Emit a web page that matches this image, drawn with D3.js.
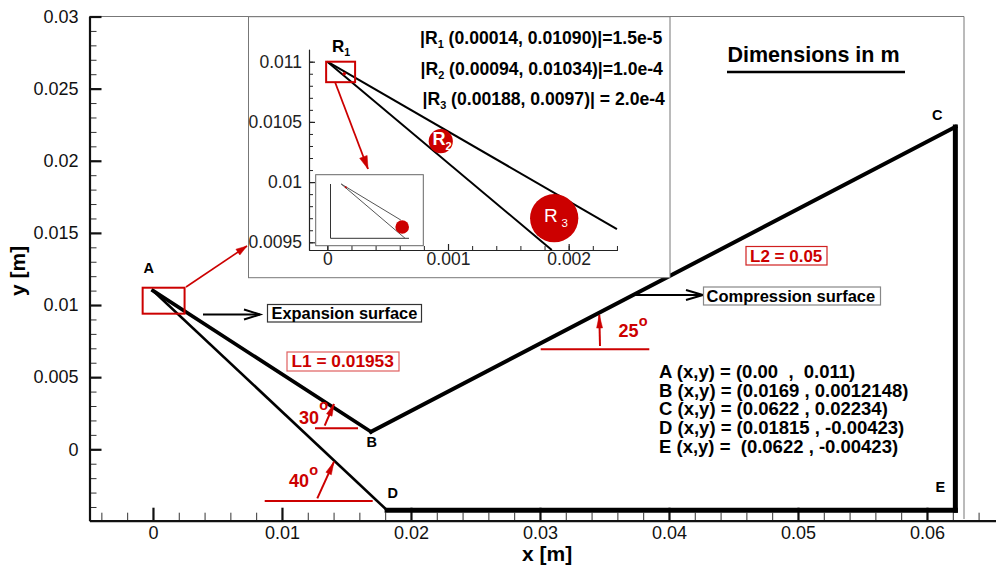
<!DOCTYPE html>
<html lang="en">
<head>
<meta charset="UTF-8" />
<title>Expansion and compression surfaces</title>
<style>
  html, body { margin: 0; padding: 0; background: #fff; }
  svg { display: block; }
  text { font-family: "Liberation Sans", Arial, sans-serif; white-space: pre; }
  .b { font-weight: bold; }
</style>
</head>
<body>
<svg width="996" height="567"></svg>
<script src="https://d3js.org/d3.v7.min.js"></script>
<script>
// corner points of the geometry
var pointNames = ["A", "B", "C", "D", "E"];
var pointX = [0, 0.0169, 0.0622, 0.01815, 0.0622];
var pointY = [0.011, 0.0012148, 0.02234, -0.00423, -0.00423];
var segFrom = ["A", "A", "B", "C", "E"];
var segTo = ["D", "B", "C", "E", "D"];

// main axes
var xTicks = [0, 0.01, 0.02, 0.03, 0.04, 0.05, 0.06];
var yTicks = [0, 0.005, 0.01, 0.015, 0.02, 0.025, 0.03];
var xMinor = d3.range(-4, 65, 2).map(function(d) { return d / 1000; });
var yMinor = d3.range(-4, 31, 1).map(function(d) { return d / 1000; });

// zoomed view
var insetXTicks = [0, 0.001, 0.002];
var insetYTicks = [0.0095, 0.01, 0.0105, 0.011];
var insetXMinor = d3.range(0, 25, 2).map(function(d) { return d / 10000; });
var insetYMinor = d3.range(95, 111, 1).map(function(d) { return d / 10000; });
var upperEdgeX = [0, 0.0024];
var upperEdgeY = [0.011, 0.00961];
var lowerEdgeX = [0, 0.00186];
var lowerEdgeY = [0.011, 0.009436];
var probeX = [0.00014, 0.00094, 0.00188];
var probeY = [0.0109, 0.01034, 0.0097];
var probeR = [1.5e-5, 1.0e-4, 2.0e-4];
var probeNotes = [
  " (0.00014, 0.01090)|=1.5e-5",
  " (0.00094, 0.01034)|=1.0e-4",
  " (0.00188, 0.0097)| = 2.0e-4"
];
var coordNotes = [
  "A (x,y) = (0.00  ,  0.011)",
  "B (x,y) = (0.0169 , 0.0012148)",
  "C (x,y) = (0.0622 , 0.02234)",
  "D (x,y) = (0.01815 , -0.00423)",
  "E (x,y) =  (0.0622 , -0.00423)"
];

var RED = "#cc0000";
var svg = d3.select("svg");

var x = d3.scaleLinear().domain([-0.00492, 0.06535]).range([89.5, 996]);
var y = d3.scaleLinear().domain([-0.00495, 0.03]).range([520.7, 16.5]);
var ix = d3.scaleLinear().domain([-0.000152, 0.002403]).range([309, 617.3]);
var iy = d3.scaleLinear().domain([0.009436, 0.011103]).range([250, 49.3]);
var nx = d3.scaleLinear().domain([-0.00033, 0.00209]).range([330.5, 409]);
var ny = d3.scaleLinear().domain([0.00936, 0.011]).range([238.3, 184]);

function drawAxis(axis, tx, ty, size, color, width, minorColor) {
  var g = svg.append("g").attr("transform", "translate(" + tx + "," + ty + ")").call(axis);
  g.attr("font-family", null).attr("font-size", size);
  g.selectAll("text").attr("fill", color);
  g.selectAll("line").attr("stroke", minorColor || color).attr("stroke-width", width);
  g.select(".domain").attr("stroke", color).attr("stroke-width", width);
  return g;
}

function arrow(x1, y1, x2, y2, color, width, open, len, half) {
  var a = Math.atan2(y2 - y1, x2 - x1);
  svg.append("line").attr("x1", x1).attr("y1", y1).attr("x2", x2).attr("y2", y2)
    .attr("stroke", color).attr("stroke-width", width);
  var p = [
    [x2 - len * Math.cos(a) + half * Math.sin(a), y2 - len * Math.sin(a) - half * Math.cos(a)],
    [x2, y2],
    [x2 - len * Math.cos(a) - half * Math.sin(a), y2 - len * Math.sin(a) + half * Math.cos(a)]
  ];
  svg.append("path").attr("d", d3.line()(p) + (open ? "" : "Z"))
    .attr("fill", open ? "none" : color)
    .attr("stroke", color).attr("stroke-width", open ? width : 0.5);
}

function label(tx, ty, str, size, color, bold) {
  return svg.append("text").attr("x", tx).attr("y", ty).attr("font-size", size)
    .attr("fill", color || "#000").attr("class", bold === false ? null : "b").text(str);
}

function boxed(bx, by, bw, bh, stroke, str, tx, ty, size, color) {
  svg.append("rect").attr("x", bx).attr("y", by).attr("width", bw).attr("height", bh)
    .attr("fill", "#fff").attr("stroke", stroke).attr("stroke-width", 1.2);
  label(tx, ty, str, size, color);
}

// frame around the plot
svg.append("path").attr("d", "M89.5,16.5H964V519").attr("fill", "none")
  .attr("stroke", "#777").attr("stroke-width", 1);

// minor ticks first, majors on top
drawAxis(d3.axisBottom(x).tickValues(xMinor).tickSize(-8).tickSizeOuter(0).tickFormat(""),
  0, 520.7, 18, "#000", 1, "#333");
drawAxis(d3.axisLeft(y).tickValues(yMinor).tickSize(-7).tickSizeOuter(0).tickFormat(""),
  89.5, 0, 18, "#000", 1, "#333");
drawAxis(d3.axisBottom(x).tickValues(xTicks).tickSize(-13).tickSizeOuter(0).tickPadding(5.5).tickFormat(d3.format("")),
  0, 520.7, 18, "#111", 2.2);
drawAxis(d3.axisLeft(y).tickValues(yTicks).tickSize(-12).tickSizeOuter(0).tickPadding(11).tickFormat(d3.format("")),
  89.5, 0, 18, "#111", 2.2);

// geometry
var segWidths = [2.6, 3.6, 4, 5, 5];
segFrom.forEach(function(from, i) {
  var a = pointNames.indexOf(from), b = pointNames.indexOf(segTo[i]);
  svg.append("line")
    .attr("x1", x(pointX[a])).attr("y1", y(pointY[a]))
    .attr("x2", x(pointX[b])).attr("y2", y(pointY[b]))
    .attr("stroke", "#000").attr("stroke-width", segWidths[i]).attr("stroke-linecap", "square");
});

// axis titles
label(522, 561, "x [m]", 21);
svg.append("text").attr("transform", "translate(25,296) rotate(-90)")
  .attr("font-size", 21).attr("class", "b").text("y [m]");

// point names
label(143.5, 273, "A", 14.5);
label(366.5, 447, "B", 14.5);
label(932, 120, "C", 14.5);
label(387.5, 498, "D", 14.5);
label(935.5, 492, "E", 14.5);

// red box round A, pointing at the zoomed view
svg.append("rect").attr("x", x(-0.0008)).attr("y", y(0.0112))
  .attr("width", x(0.00245) - x(-0.0008)).attr("height", y(0.0094) - y(0.0112))
  .attr("fill", "none").attr("stroke", RED).attr("stroke-width", 2);
arrow(186, 287, 247, 246, RED, 1.6, false, 11, 3.5);

// zoomed view
svg.append("rect").attr("x", 248.5).attr("y", 16.7).attr("width", 421.5).attr("height", 261)
  .attr("fill", "#fff").attr("stroke", "#777").attr("stroke-width", 1);

drawAxis(d3.axisBottom(ix).tickValues(insetXMinor).tickSize(-4).tickSizeOuter(0).tickFormat(""),
  0, 250, 17.5, "#222", 1);
drawAxis(d3.axisLeft(iy).tickValues(insetYMinor).tickSize(-4).tickSizeOuter(0).tickFormat(""),
  309, 0, 17.5, "#222", 1);
drawAxis(d3.axisBottom(ix).tickValues(insetXTicks).tickSize(-6).tickSizeOuter(0).tickPadding(3).tickFormat(d3.format("")),
  0, 250, 17.5, "#222", 1.2);
drawAxis(d3.axisLeft(iy).tickValues(insetYTicks).tickSize(-6).tickSizeOuter(0).tickPadding(7).tickFormat(d3.format("")),
  309, 0, 17.5, "#222", 1.2);

function edge(sx, sy, xs, ys, color, width) {
  svg.append("line").attr("x1", sx(xs[0])).attr("y1", sy(ys[0]))
    .attr("x2", sx(xs[1])).attr("y2", sy(ys[1]))
    .attr("stroke", color).attr("stroke-width", width);
}
edge(ix, iy, upperEdgeX, upperEdgeY, "#000", 2);
edge(ix, iy, lowerEdgeX, lowerEdgeY, "#000", 2);

svg.append("g").selectAll("circle").data(probeX).join("circle")
  .attr("cx", function(d) { return ix(d); })
  .attr("cy", function(d, i) { return iy(probeY[i]); })
  .attr("r", function(d, i) { return ix(probeR[i]) - ix(0); })
  .attr("fill", RED);

svg.append("rect").attr("x", ix(-0.00001)).attr("y", iy(0.011))
  .attr("width", ix(0.00023) - ix(-0.00001)).attr("height", iy(0.01083) - iy(0.011))
  .attr("fill", "none").attr("stroke", RED).attr("stroke-width", 2);
arrow(335, 82, 368, 169, RED, 1.8, false, 13, 4);

// the small overview inside the zoomed view
svg.append("rect").attr("x", 315.7).attr("y", 174.7).attr("width", 107.6).attr("height", 71)
  .attr("fill", "#fff").attr("stroke", "#666").attr("stroke-width", 1);
svg.append("path").attr("d", "M" + nx.range()[0] + "," + ny.range()[1] + "V" + ny.range()[0] + "H" + nx.range()[1])
  .attr("fill", "none").attr("stroke", "#333").attr("stroke-width", 1);
edge(nx, ny, [0, 0.00184], [0.011, 0.00991], "#555", 1);
edge(nx, ny, [0, 0.00197], [0.011, 0.00936], "#555", 1);
svg.append("g").selectAll("circle").data(probeX).join("circle")
  .attr("cx", function(d) { return nx(d); })
  .attr("cy", function(d, i) { return ny(probeY[i]); })
  .attr("r", function(d, i) { return Math.max(nx(probeR[i]) - nx(0), i === 2 ? 6.8 : 1); })
  .attr("fill", function(d, i) { return i === 1 ? "none" : RED; });

// probe captions
function sub(tx, ty, base, s, size, color, tail) {
  var t = label(tx, ty, "", size, color);
  t.append("tspan").text(base);
  t.append("tspan").attr("font-size", size * 0.62).attr("dy", size * 0.25).text(s);
  if (tail) t.append("tspan").attr("dy", -size * 0.25).text(tail);
  return t;
}
sub(332, 52, "R", "1", 17, "#000");
sub(420, 43.5, "|R", "1", 17.6, "#000", probeNotes[0]);
sub(420.5, 75, "|R", "2", 17.6, "#000", probeNotes[1]);
sub(422.5, 105, "|R", "3", 17.6, "#000", probeNotes[2]);
sub(432.5, 145, "R", "2", 18, "#fff");
label(544, 222, "R", 19, "#fff", false);
label(561.5, 227, "3", 11.5, "#fff", false);

label(727.5, 62, "Dimensions in m", 21.5);
svg.append("line").attr("x1", 727).attr("x2", 905).attr("y1", 72).attr("y2", 72)
  .attr("stroke", "#000").attr("stroke-width", 2.4);

// surface callouts
arrow(203, 314.5, 260, 314.5, "#000", 2, true, 16, 5);
boxed(267.5, 304.5, 154, 17.5, "#333", "Expansion surface", 271.5, 319, 16.4, "#000");
arrow(633, 295, 703, 295, "#000", 2, true, 17, 5);
boxed(703.5, 287, 177, 18, "#888", "Compression surface", 706.5, 301.5, 16.5, "#000");
boxed(287, 352, 112, 19, "#e06060", "L1 = 0.01953", 291.5, 367, 17.3, RED);
boxed(746, 246.5, 81, 18.5, "#d02020", "L2 = 0.05", 750, 261.5, 17, RED);

// angle marks
function angleLine(x1, x2, ly) {
  svg.append("line").attr("x1", x1).attr("x2", x2).attr("y1", ly).attr("y2", ly)
    .attr("stroke", RED).attr("stroke-width", 2);
}
angleLine(540.7, 649.3, 349.3);
arrow(600, 346, 599.3, 315, RED, 2, false, 13, 3);
label(618.5, 337, "25", 18, RED);
label(638.8, 326, "o", 14.5, RED);

angleLine(315, 358, 428.3);
arrow(324.7, 425.7, 334, 404, RED, 2, false, 12, 3);
label(299, 424, "30", 18, RED);
label(319.3, 409.5, "o", 14.5, RED);

angleLine(264.7, 372.7, 501);
arrow(317.3, 498.3, 334, 461.7, RED, 2, false, 13, 3);
label(289, 486.7, "40", 18, RED);
label(309.3, 474.5, "o", 14.5, RED);

// coordinates list
var coordBase = [377.7, 396.5, 415.2, 434, 452.7];
coordNotes.forEach(function(str, i) {
  label(659, coordBase[i], str, 18.5);
});
</script>
</body>
</html>
